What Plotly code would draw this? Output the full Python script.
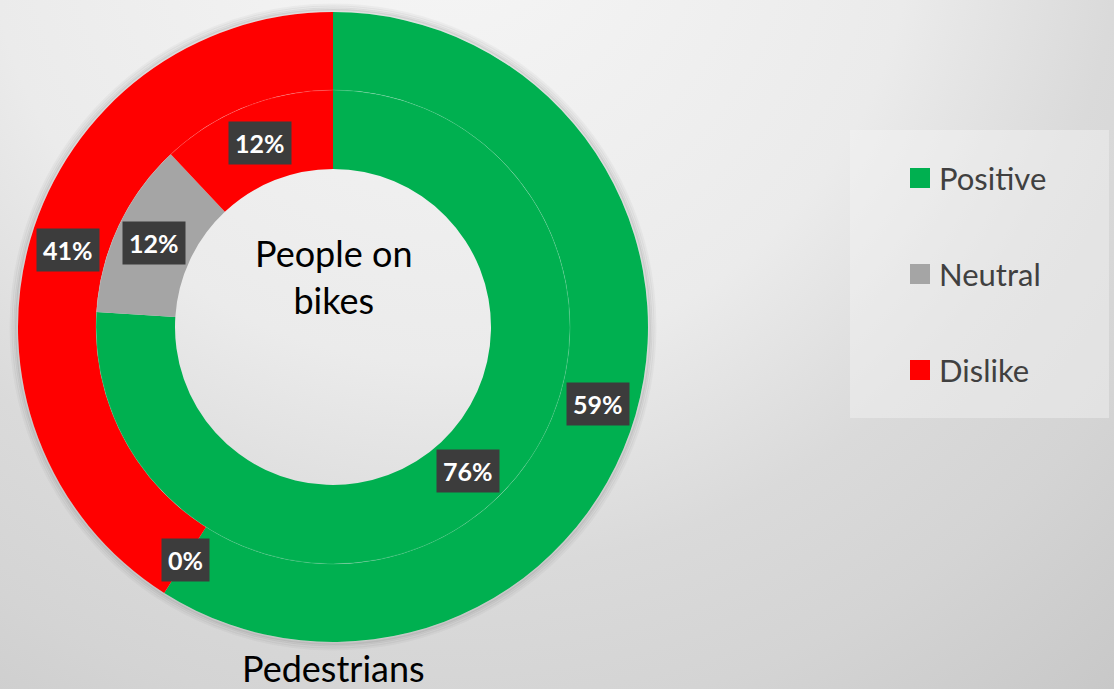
import math
import base64
import plotly.graph_objects as go

# ---------------- data ----------------
categories = ["Positive", "Neutral", "Dislike"]
pedestrians = [59, 0, 41]          # outer ring
people_on_bikes = [76, 12, 12]     # inner ring
ring_names = ["Pedestrians", "People on<br>bikes"]
colors = ["#00B050", "#A5A5A5", "#FF0000"]

# ---------------- geometry (pixels) ----------------
W, H = 1114, 689
CX, CY = 333, 327
R_OUT, R_MID, R_HOLE = 315, 237, 158


def dom(r):
    return dict(x=[(CX - r) / W, (CX + r) / W],
                y=[1 - (CY + r) / H, 1 - (CY - r) / H])


def circ(r, **kw):
    return dict(type="circle", xref="paper", yref="paper",
                x0=(CX - r) / W, x1=(CX + r) / W,
                y0=1 - (CY + r) / H, y1=1 - (CY - r) / H, **kw)


fig = go.Figure()

# soft shadow around the outer ring (outline rings only, hole stays clear)
for dr, a in [(7, 0.03), (5, 0.045), (3, 0.06), (1.5, 0.08)]:
    fig.add_shape(circ(R_OUT + dr, line=dict(color=f"rgba(0,0,0,{a})", width=3), layer="below"))

fig.add_trace(go.Pie(labels=categories, values=pedestrians, name="Pedestrians",
                     marker=dict(colors=colors, line=dict(width=0)),
                     hole=R_MID / R_OUT, sort=False, direction="clockwise", rotation=0,
                     textinfo="none", domain=dom(R_OUT), showlegend=False))
fig.add_trace(go.Pie(labels=categories, values=people_on_bikes, name="People on bikes",
                     marker=dict(colors=colors, line=dict(width=0)),
                     hole=R_HOLE / R_MID, sort=False, direction="clockwise", rotation=0,
                     textinfo="none", domain=dom(R_MID), showlegend=False))

# faint circle between rings
fig.add_shape(circ(R_MID, line=dict(color="rgba(255,255,255,0.15)", width=1)))

annotations = []


def ring_labels(vals, r_in, r_out):
    total = sum(vals)
    cum = 0
    rm = (r_in + r_out) / 2
    for v in vals:
        mid = (cum + v / 2) / total * 2 * math.pi
        cum += v
        px = CX + rm * math.sin(mid)
        py = CY - rm * math.cos(mid)
        annotations.append(dict(x=px / W, y=1 - py / H, xref="paper", yref="paper",
                                text=f"<b>{v}%</b>", showarrow=False,
                                xanchor="center", yanchor="middle",
                                font=dict(family="Lato", size=25, color="white"),
                                bgcolor="#3c3c3c", borderpad=6))


ring_labels(pedestrians, R_MID, R_OUT)
ring_labels(people_on_bikes, R_HOLE, R_MID)

# ring titles
annotations.append(dict(x=CX / W, y=1 - 276 / H, xref="paper", yref="paper",
                        text=ring_names[1], showarrow=False,
                        xanchor="center", yanchor="middle",
                        font=dict(family="Lato", size=36, color="black")))
annotations.append(dict(x=CX / W, y=1 - 668 / H, xref="paper", yref="paper",
                        text=ring_names[0], showarrow=False,
                        xanchor="center", yanchor="middle",
                        font=dict(family="Lato", size=36, color="black")))

# legend (manual)
fig.add_shape(type="rect", xref="paper", yref="paper",
              x0=850 / W, x1=1109 / W, y0=1 - 418 / H, y1=1 - 130 / H,
              fillcolor="rgba(245,245,245,0.45)", line=dict(width=0), layer="below")
for i, (cat, col) in enumerate(zip(categories, colors)):
    yc = 178 + 96 * i
    fig.add_shape(type="rect", xref="paper", yref="paper",
                  x0=910 / W, x1=930 / W, y0=1 - (yc + 10) / H, y1=1 - (yc - 10) / H,
                  fillcolor=col, line=dict(width=0))
    annotations.append(dict(x=937 / W, y=1 - yc / H, xref="paper", yref="paper",
                            text=cat, showarrow=False, xanchor="left", yanchor="middle",
                            font=dict(family="Lato", size=31, color="#404040")))

# background gradient
svg = f'''<svg xmlns="http://www.w3.org/2000/svg" width="{W}" height="{H}" viewBox="0 0 {W} {H}" preserveAspectRatio="none">
<defs><radialGradient id="g" cx="450" cy="-100" r="1031" gradientUnits="userSpaceOnUse">
<stop offset="0" stop-color="#f6f6f6"/><stop offset="0.45" stop-color="#ebebeb"/>
<stop offset="0.65" stop-color="#dadada"/><stop offset="0.8" stop-color="#d4d4d4"/>
<stop offset="1" stop-color="#c8c8c8"/></radialGradient></defs>
<rect width="{W}" height="{H}" fill="url(#g)"/></svg>'''
src = "data:image/svg+xml;base64," + base64.b64encode(svg.encode()).decode()

fig.update_layout(width=W, height=H, margin=dict(l=0, r=0, t=0, b=0),
                  paper_bgcolor="#e2e2e2", plot_bgcolor="rgba(0,0,0,0)",
                  annotations=annotations,
                  images=[dict(source=src, xref="paper", yref="paper", x=0, y=1,
                               sizex=1, sizey=1, sizing="stretch", layer="below",
                               xanchor="left", yanchor="top")])

fig.write_html("out.html", config={"displayModeBar": False},
               post_script="document.body.style.margin='0';document.body.style.overflow='hidden';")
